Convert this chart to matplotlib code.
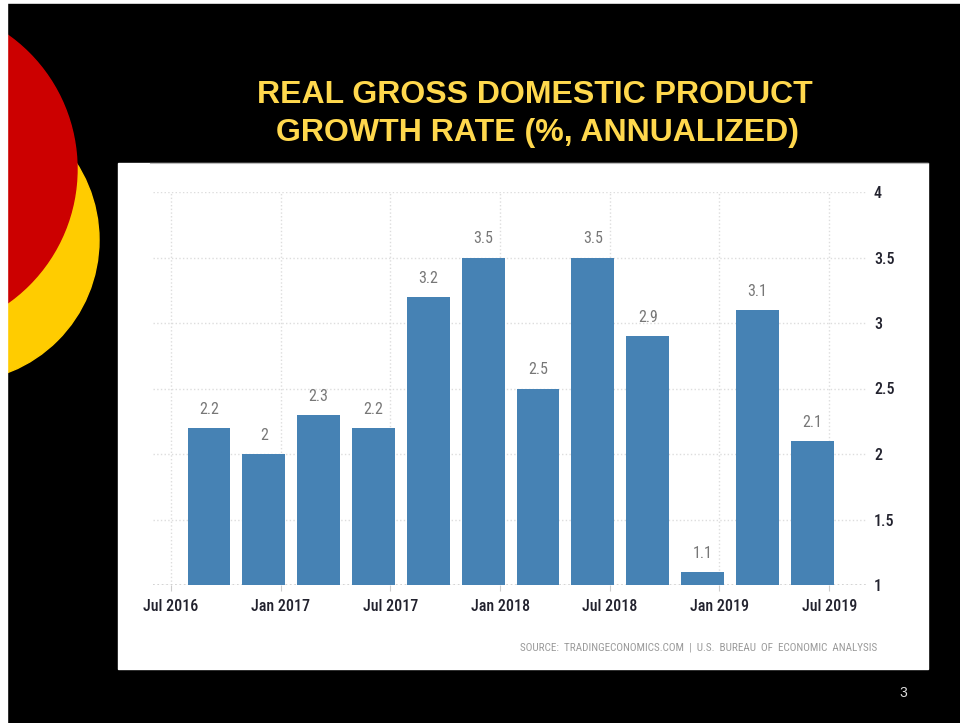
import matplotlib.pyplot as plt
from matplotlib.patches import Rectangle, Circle

# quarterly real GDP growth, Q3 2016 .. Q2 2019
values = [2.2, 2.0, 2.3, 2.2, 3.2, 3.5, 2.5, 3.5, 2.9, 1.1, 3.1, 2.1]
value_labels = ["2.2", "2", "2.3", "2.2", "3.2", "3.5", "2.5", "3.5", "2.9", "1.1", "3.1", "2.1"]
tick_labels = ["Jul 2016", "Jan 2017", "Jul 2017", "Jan 2018", "Jul 2018", "Jan 2019", "Jul 2019"]
y_ticks = [1, 1.5, 2, 2.5, 3, 3.5, 4]
y_tick_labels = ["1", "1.5", "2", "2.5", "3", "3.5", "4"]

cond = ["Roboto Condensed", "DejaVu Sans"]

fig = plt.figure(figsize=(9.6, 7.23), dpi=100)
fig.patch.set_facecolor("white")

# slide background drawn in pixel space
bg = fig.add_axes([0, 0, 1, 1])
bg.set_xlim(0, 960)
bg.set_ylim(723, 0)
bg.axis("off")
bg.add_patch(Rectangle((7, 4), 960, 730, color="black"))
bg.add_patch(Circle((-43, 240), 142, color="#FFCC00"))
bg.add_patch(Circle((-87, 169), 164, color="#CC0000"))
bg.add_patch(Rectangle((0, 0), 7, 723, color="white", zorder=3))
bg.add_patch(Rectangle((118, 163), 810, 506, color="white"))
bg.plot([150, 928], [162.5, 162.5], color="#bbbbbb", lw=0.8)

bg.text(535, 95, "REAL GROSS DOMESTIC PRODUCT", color="#FFD84D", fontsize=23,
        fontweight="bold", family="Liberation Sans", ha="center", va="center")
bg.text(538, 133, "GROWTH RATE (%, ANNUALIZED)", color="#FFD84D", fontsize=23,
        fontweight="bold", family="Liberation Sans", ha="center", va="center")
bg.text(877, 647, "SOURCE:  TRADINGECONOMICS.COM  |  U.S.  BUREAU  OF  ECONOMIC  ANALYSIS",
        color="#9a9a9a", fontsize=8, family=cond, fontstretch="condensed",
        ha="right", va="center")
bg.text(903, 693, "3", color="#dddddd", fontsize=10, family="Liberation Sans",
        ha="center", va="center")

# chart
ax = fig.add_axes([153 / 960, 1 - 585 / 723, (867 - 153) / 960, (585 - 192) / 723])
ax.set_facecolor("white")
x = list(range(len(values)))
ax.bar(x, [v - 1 for v in values], bottom=1, width=0.78, color="#4682B4", zorder=2)
for xi, v, lab in zip(x, values, value_labels):
    ax.annotate(lab, (xi, v), xytext=(0, 8), textcoords="offset points",
                ha="center", va="bottom", color="#777777", fontsize=11.5,
                family=cond, fontstretch="condensed")

tick_pos = [-0.69 + 2 * i for i in range(len(tick_labels))]
ax.set_xticks(tick_pos)
ax.set_xticklabels(tick_labels, family=cond, fontstretch="condensed", fontsize=11.5,
                   fontweight="medium", color="#22222e")
ax.set_yticks(y_ticks)
ax.set_yticklabels(y_tick_labels, family=cond, fontstretch="condensed", fontsize=11.5,
                   fontweight="medium", color="#22222e")
ax.yaxis.tick_right()
ax.set_xlim(-1.02, 12.0)
ax.set_ylim(1, 4)
ax.tick_params(axis="y", length=0, pad=5)
ax.tick_params(axis="x", length=4, color="#cccccc", pad=6)
ax.grid(True, color="#dddddd", linestyle=":", linewidth=1, zorder=0)
ax.set_axisbelow(True)
for s in ax.spines.values():
    s.set_visible(False)
ax.axhline(1, color="#cccccc", linestyle=":", linewidth=1.2, zorder=1)

fig.savefig("out.png", dpi=100, facecolor=fig.get_facecolor())
